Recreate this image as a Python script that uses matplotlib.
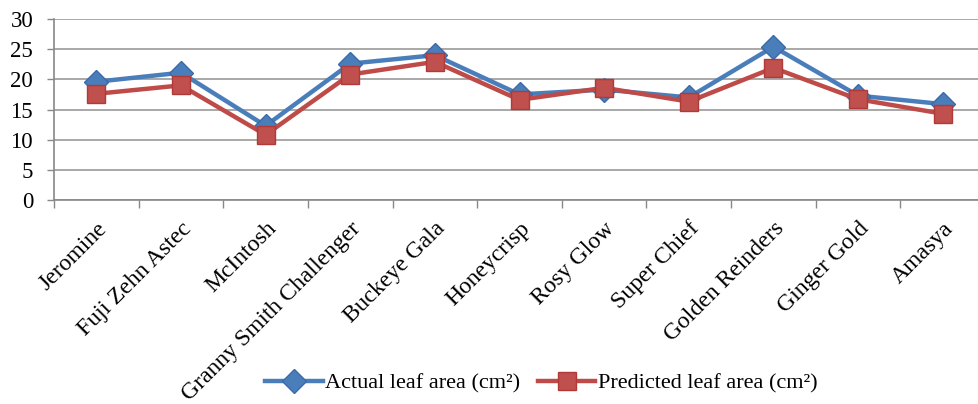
import matplotlib
matplotlib.use("Agg")
import matplotlib.pyplot as plt
import numpy as np

cultivars = ["Jeromine", "Fuji Zehn Astec", "McIntosh", "Granny Smith Challenger",
             "Buckeye Gala", "Honeycrisp", "Rosy Glow", "Super Chief",
             "Golden Reinders", "Ginger Gold", "Amasya"]
actual = [19.6, 21.1, 12.3, 22.6, 24.0, 17.5, 18.3, 17.0, 25.4, 17.3, 15.9]
predicted = [17.6, 19.0, 10.8, 20.8, 22.9, 16.6, 18.6, 16.3, 21.9, 16.7, 14.3]
yticks = [0, 5, 10, 15, 20, 25, 30]

plt.rcParams["font.family"] = ["Liberation Serif", "DejaVu Serif"]

fig = plt.figure(figsize=(9.79, 4.04), dpi=100)
ax = fig.add_axes([54 / 979, 1 - 200 / 404, 931 / 979, 181 / 404])

x = np.arange(len(cultivars))
ax.plot(x, actual, color="#4A7EBB", lw=3.2, marker="D", ms=12,
        mfc="#4A7EBB", mec="#3B6AA8", label="Actual leaf area (cm²)", zorder=3)
ax.plot(x, predicted, color="#BE4B48", lw=3.2, marker="s", ms=13.5,
        mfc="#C0504D", mec="#B03A37", label="Predicted leaf area (cm²)", zorder=4)

ax.set_xlim(-0.5, len(cultivars) - 0.5)
ax.set_ylim(0, 30)
ax.set_yticks(yticks)
ax.set_yticklabels([str(v) for v in yticks], fontsize=16.5)
ax.set_xticks(x)
ax.set_xticklabels(cultivars, rotation=45, ha="right", rotation_mode="anchor",
                   fontsize=17)
ax.set_xticks(np.arange(-0.5, len(cultivars)), minor=True)
ax.tick_params(axis="x", which="major", length=0, pad=13)
ax.tick_params(axis="x", which="minor", length=6, color="#888888", width=1)
ax.tick_params(axis="y", length=5, color="#888888", width=1, pad=10)

ax.grid(axis="y", color="#9A9A9A", lw=1.2)
ax.set_axisbelow(True)
for side in ["top", "right"]:
    ax.spines[side].set_visible(False)
for side in ["left", "bottom"]:
    ax.spines[side].set_color("#888888")
    ax.spines[side].set_linewidth(1.2)

fig.legend(loc="center", bbox_to_anchor=(541 / 979, 1 - 383 / 404), ncol=2,
           frameon=False, fontsize=16, handlelength=2.6, columnspacing=0.8,
           handletextpad=0.1, borderpad=0)

fig.savefig("out.png", dpi=100)
